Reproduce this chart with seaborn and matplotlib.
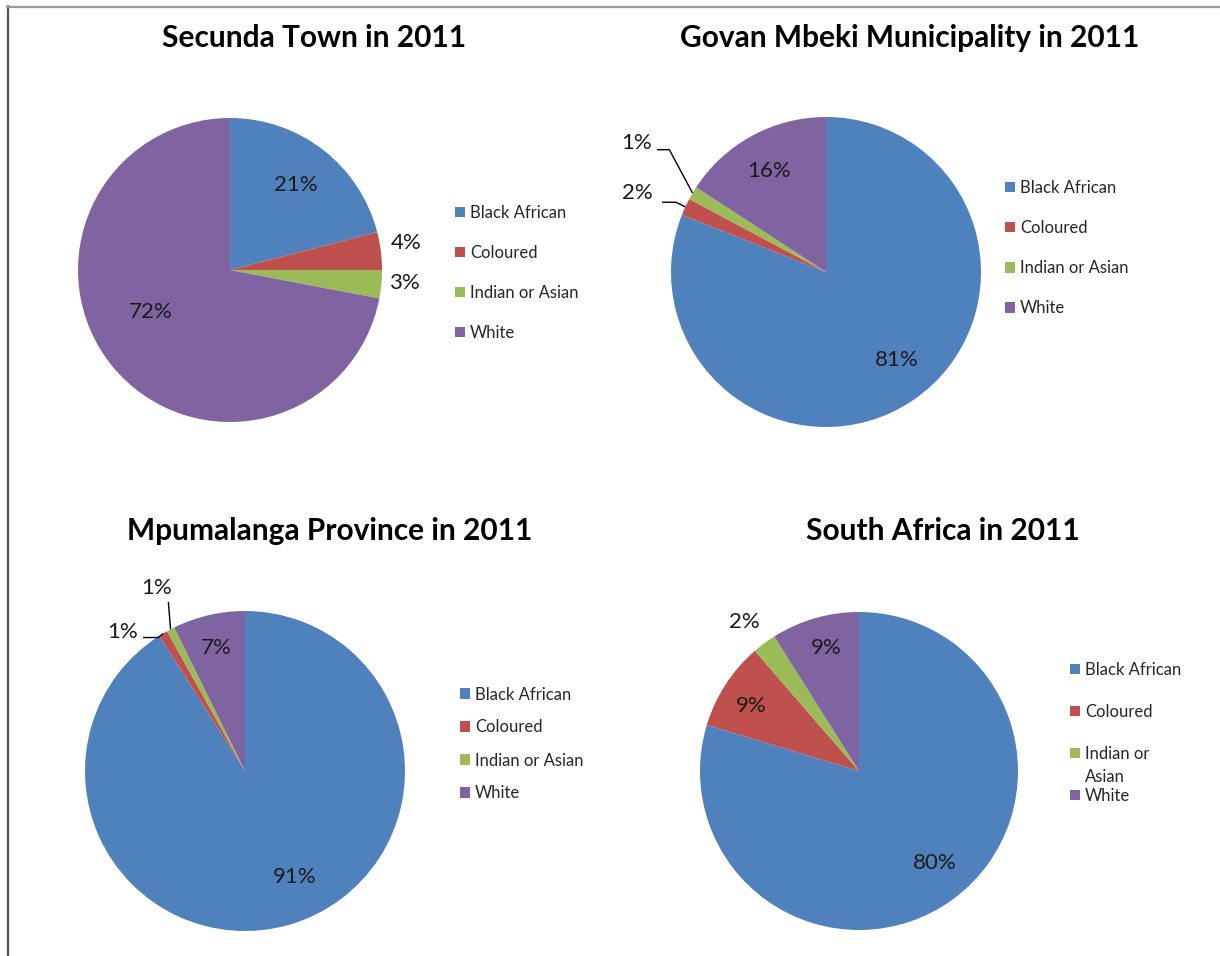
import matplotlib
matplotlib.use("Agg")
import numpy as np
import matplotlib.pyplot as plt
import seaborn as sns
from matplotlib.lines import Line2D

# population group shares, 2011 census (%)
categories = ["Black African", "Coloured", "Indian or Asian", "White"]
secunda = [21, 4, 3, 72]
govan_mbeki = [81.0, 1.8, 1.4, 15.8]
mpumalanga = [91.0, 0.9, 0.8, 7.3]
south_africa = [79.2, 8.9, 2.4, 8.9]
titles = ["Secunda Town in 2011", "Govan Mbeki Municipality in 2011",
          "Mpumalanga Province in 2011", "South Africa in 2011"]

colors = ["#4F81BD", "#C0504D", "#9BBB59", "#8064A2"]

W, H = 1220, 956
sns.set_theme(style="white")
plt.rcParams["font.family"] = ["Lato", "DejaVu Sans"]

TEXT_COLOR = "#1a1a1a"
PCT_SIZE = 16
LEGEND_SIZE = 12
TITLE_SIZE = 21.5

# layout in pixels; label placement as (distance, angle tweak) in radius units,
# leader labels as (text dx, text dy, gap, drop, knee length) from wedge edge
charts = [
    dict(values=secunda, title=titles[0], centre=(230, 270), r=152, title_xy=(314, 38),
         legend_xy=(455, 273), spacing=1.44, legend_labels=categories,
         label_pos={0: (0.71, 0), 1: (1.17, 1.5), 2: (1.15, 1), 3: (0.59, -12)},
         leaders={}),
    dict(values=govan_mbeki, title=titles[1], centre=(826, 272), r=155, title_xy=(910, 38),
         legend_xy=(1005, 248), spacing=1.45, legend_labels=categories,
         label_pos={0: (0.73, 4.4), 3: (0.75, 1)},
         leaders={1: (-0.21, 0.09, 0.06, 0.06, 0.09),
                  2: (-0.26, 0.32, 0.03, 0.04, 0.08)}),
    dict(values=mpumalanga, title=titles[2], centre=(245, 771), r=160, title_xy=(330, 531),
         legend_xy=(460, 744), spacing=1.02, legend_labels=categories,
         label_pos={0: (0.73, 9), 3: (0.79, 0)},
         leaders={1: (-0.156, 0.01, 0.03, 0.035, 0.095),
                  2: (0.006, 0.256, -0.02, 0.085, 0.0)}),
    dict(values=south_africa, title=titles[3], centre=(859, 771), r=159, title_xy=(943, 531),
         legend_xy=(1070, 733), spacing=1.56,
         legend_labels=["Black African", "Coloured", "Indian or", "White"],
         label_pos={0: (0.75, 3), 1: (0.79, 1.7), 2: (1.18, 1), 3: (0.8, -1)},
         leaders={}),
]

fig = plt.figure(figsize=(W / 100, H / 100), dpi=100)
fig.patch.set_facecolor("white")


def px_axes(cx, cy, r):
    return fig.add_axes([(cx - r) / W, 1 - (cy + r) / H, 2 * r / W, 2 * r / H])


legends = []
for ch in charts:
    cx, cy = ch["centre"]
    ax = px_axes(cx, cy, ch["r"])
    vals = np.asarray(ch["values"], dtype=float)
    pct = vals / vals.sum() * 100
    wedges, _ = ax.pie(vals, colors=colors, startangle=90, counterclock=False,
                       radius=1, wedgeprops=dict(linewidth=0))
    ax.set_xlim(-1, 1)
    ax.set_ylim(-1, 1)
    ax.set_aspect("equal")
    ax.axis("off")

    for i, w in enumerate(wedges):
        mid = np.deg2rad((w.theta1 + w.theta2) / 2)
        label = f"{pct[i]:.0f}%"
        if i in ch["leaders"]:
            tdx, tdy, gap, drop, knee = ch["leaders"][i]
            ex, ey = np.cos(mid), np.sin(mid)
            tx, ty = ex + tdx, ey + tdy
            ax.text(tx, ty, label, ha="right", va="center", fontsize=PCT_SIZE,
                    color=TEXT_COLOR)
            sx, sy = tx + gap, ty - drop
            ax.plot([sx, sx + knee, ex], [sy, sy, ey], color="black", lw=1,
                    clip_on=False, solid_capstyle="butt")
        else:
            dist, tweak = ch["label_pos"][i]
            a = mid + np.deg2rad(tweak)
            ax.text(dist * np.cos(a), dist * np.sin(a), label, ha="center",
                    va="center", fontsize=PCT_SIZE, color=TEXT_COLOR)

    tx, ty = ch["title_xy"]
    fig.text(tx / W, 1 - ty / H, ch["title"], ha="center", va="center",
             fontsize=TITLE_SIZE, fontweight="bold", color="black")

    lx, ly = ch["legend_xy"]
    leg = ax.legend(wedges, ch["legend_labels"], loc="center left",
                    bbox_to_anchor=(lx / W, 1 - ly / H), bbox_transform=fig.transFigure,
                    frameon=False, borderpad=0, borderaxespad=0,
                    handlelength=0.6, handleheight=0.6,
                    handletextpad=0.3, labelspacing=ch["spacing"],
                    fontsize=LEGEND_SIZE, labelcolor="#262626")
    legends.append(leg)

# second line of the wrapped "Indian or Asian" entry in the last legend
fig.canvas.draw()
bb = legends[3].get_texts()[2].get_window_extent()
fig.text(bb.x0 / W, (bb.y0 + bb.y1) / 2 / H - 23 / H, "Asian", ha="left", va="center",
         fontsize=LEGEND_SIZE, color="#262626")

# outer frame (cropped screenshot border)
fig.add_artist(Line2D([7.5 / W, 7.5 / W], [0, 1 - 6 / H], transform=fig.transFigure,
                      color="#555555", lw=1.6))
fig.add_artist(Line2D([7 / W, 1], [1 - 6.5 / H, 1 - 6.5 / H], transform=fig.transFigure,
                      color="#9a9a9a", lw=1.6))

fig.savefig("out.png", dpi=100)
